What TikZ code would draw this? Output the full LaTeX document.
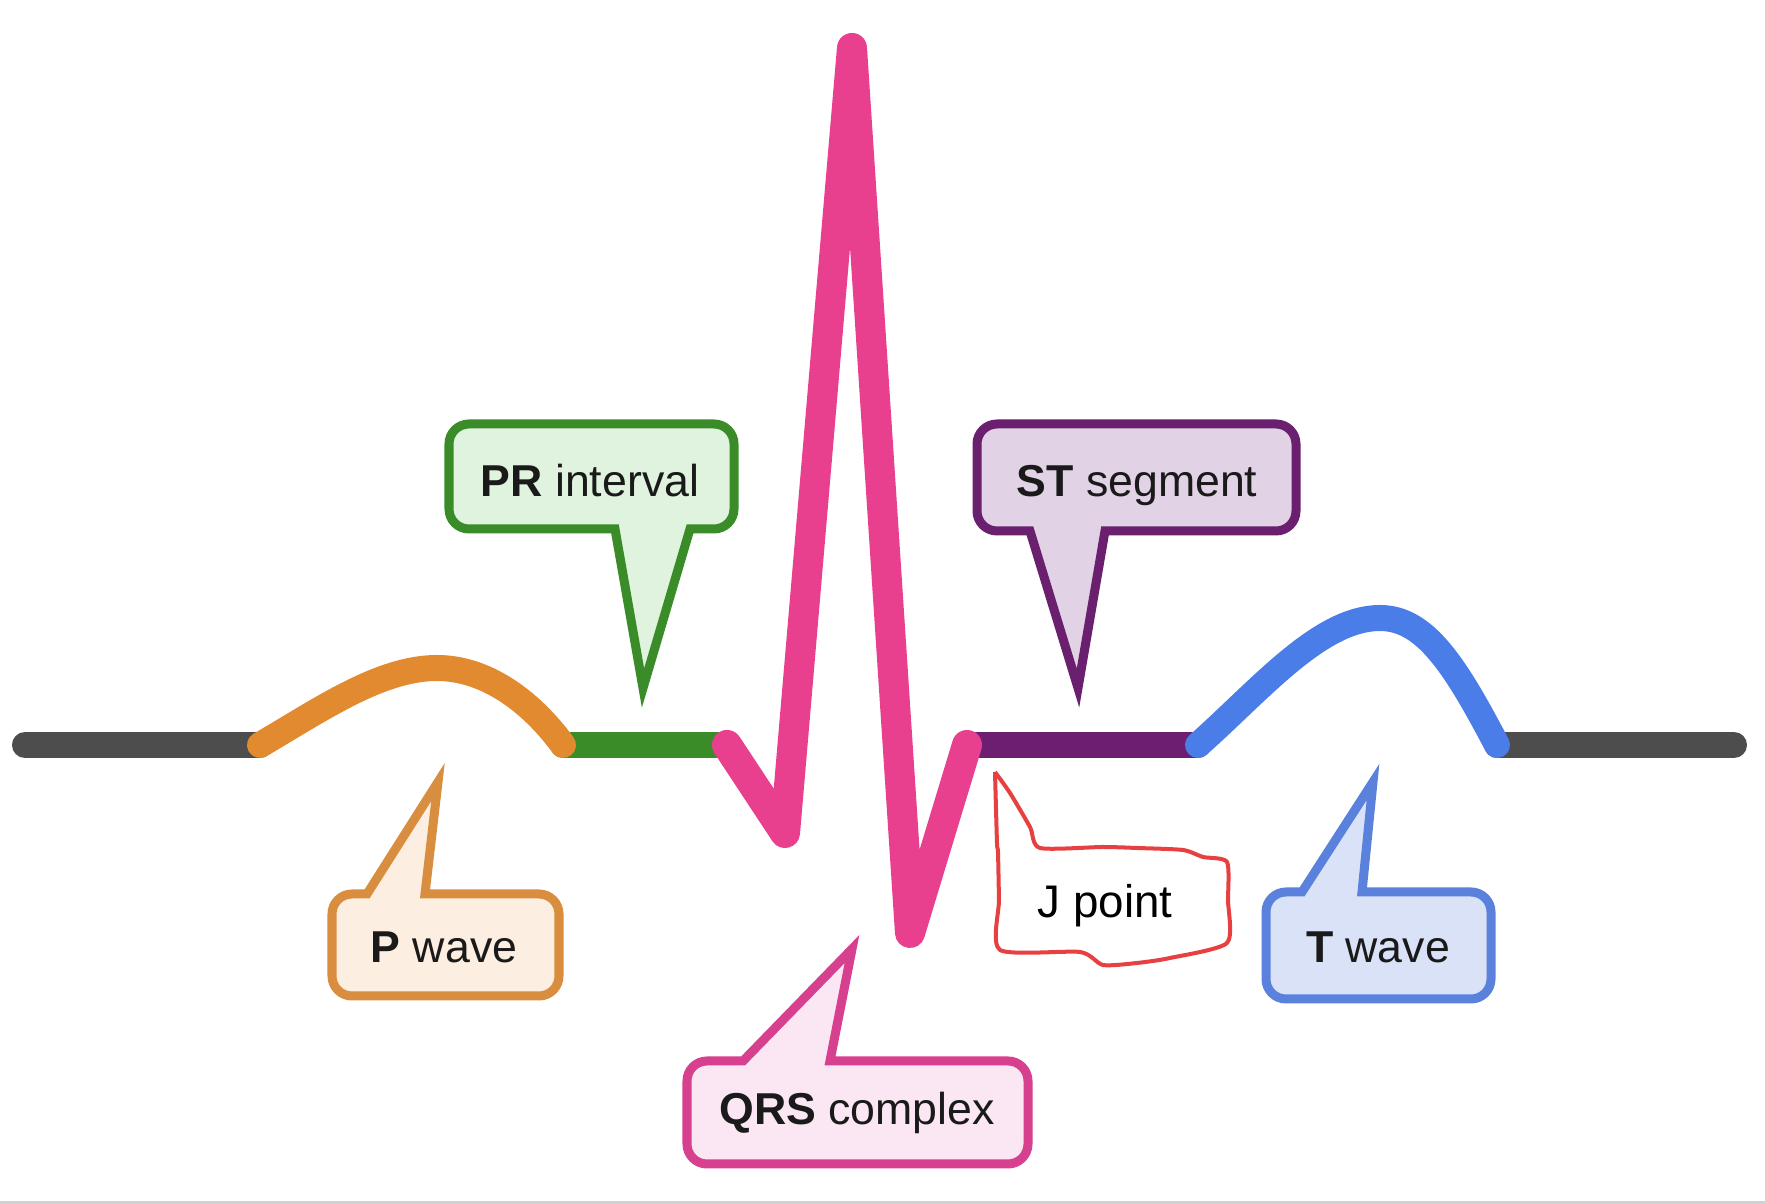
\documentclass[tikz,border=0pt]{standalone}
\usepackage{fontspec}
\setmainfont{Liberation Sans}
\usepackage{xcolor}
\usepackage{tikz}
\usetikzlibrary{positioning}
\definecolor{basegray}{RGB}{77,77,77}
\definecolor{pcolor}{RGB}{226,138,48}
\definecolor{prcolor}{RGB}{58,140,40}
\definecolor{qrscolor}{RGB}{232,64,143}
\definecolor{stcolor}{RGB}{110,30,112}
\definecolor{tcolor}{RGB}{74,125,232}
\definecolor{pfill}{RGB}{252,238,224}
\definecolor{pline}{RGB}{216,142,62}
\definecolor{prfill}{RGB}{224,243,222}
\definecolor{stfill}{RGB}{226,210,230}
\definecolor{stline}{RGB}{106,32,110}
\definecolor{tfill}{RGB}{218,226,248}
\definecolor{tline}{RGB}{90,130,220}
\definecolor{qrsfill}{RGB}{251,230,243}
\definecolor{qrsline}{RGB}{214,64,142}
\definecolor{jcolor}{RGB}{232,64,64}
\definecolor{txtcolor}{RGB}{26,26,26}

\begin{document}
\begin{tikzpicture}[
    x=0.01cm, y=-0.01cm,
    trace/.style={line width=0.26cm, line cap=round, line join=round},
    callout/.style={line width=0.09cm, rounded corners=2mm},
    lbl/.style={font=\fontsize{12.7}{15}\selectfont, text=txtcolor, anchor=base, inner sep=0pt}
  ]
  \useasboundingbox (0,0) rectangle (1765,1204);
  \fill[white] (0,0) rectangle (1765,1204);
  \fill[black!18] (0,1201) rectangle (1765,1204);

  % baseline pieces
  \coordinate (start) at (25,745);
  \coordinate (pon) at (260,745);
  \coordinate (poff) at (563,745);
  \coordinate (qon) at (727,745);
  \coordinate (qbot) at (785,833);
  \coordinate (rtop) at (852,48);
  \coordinate (sbot) at (910,933);
  \coordinate (jpt) at (967,745);
  \coordinate (ton) at (1198,745);
  \coordinate (toff) at (1497,745);
  \coordinate (stop) at (1734,745);

  \draw[trace, basegray] (start) -- (pon);
  \draw[trace, basegray] (toff) -- (stop);
  \draw[trace, prcolor] (poff) -- (qon);
  \draw[trace, stcolor] (jpt) -- (ton);
  \draw[trace, pcolor] (pon) .. controls (320,710) and (380,668) .. (437,668)
    .. controls (485,668) and (530,700) .. (poff);
  \draw[trace, tcolor] (ton) .. controls (1260,690) and (1320,618) .. (1380,618)
    .. controls (1425,618) and (1455,665) .. (toff);
  \draw[trace, qrscolor, line width=0.3cm] (qon) -- (qbot) -- (rtop) -- (sbot) -- (jpt);

  % callouts
  \draw[callout, draw=prcolor, fill=prfill] (590,424) -- (734,424) -- (734,529) [sharp corners] -- (690,529)
    -- (643,688) -- (615,529) [rounded corners=2mm] -- (449,529) -- (449,424) -- cycle;
  \node[lbl] (prtext) at (590,497) {\textbf{PR} interval};

  \draw[callout, draw=stline, fill=stfill] (1136,424) -- (1296,424) -- (1296,531) [sharp corners] -- (1105,531)
    -- (1078,688) -- (1030,531) [rounded corners=2mm] -- (977,531) -- (977,424) -- cycle;
  \node[lbl] (sttext) at (1137,497) {\textbf{ST} segment};

  \draw[callout, draw=pline, fill=pfill] (445,996) -- (332,996) -- (332,894) [sharp corners] -- (367,894)
    -- (438,782) -- (425,894) [rounded corners=2mm] -- (559,894) -- (559,996) -- cycle;
  \node[lbl] (ptext) at (444,963) {\textbf{P} wave};

  \draw[callout, draw=tline, fill=tfill] (1378,999) -- (1266,999) -- (1266,892) [sharp corners] -- (1302,892)
    -- (1373,782) -- (1362,892) [rounded corners=2mm] -- (1491,892) -- (1491,999) -- cycle;
  \node[lbl] (ttext) at (1378,963) {\textbf{T} wave};

  \draw[callout, draw=qrsline, fill=qrsfill] (857,1164) -- (687,1164) -- (687,1061) [sharp corners] -- (743,1061)
    -- (852,949) -- (830,1061) [rounded corners=2mm] -- (1028,1061) -- (1028,1164) -- cycle;
  \node[lbl] (qrstext) at (857,1125) {\textbf{QRS} complex};

  % hand-drawn J point note
  \draw[jcolor, line width=0.04cm, line join=round] plot[smooth, tension=0.4] coordinates {
    (995,772) (1010,793) (1030,827) (1040,848) (1103,847) (1137,848) (1183,850)
    (1203,857) (1227,862) (1228,900) (1227,943) (1170,958) (1137,963) (1103,965)
    (1080,952) (1000,950) (999,900) (998,852) (997,843) (995,772)};
  \node[lbl, font=\fontsize{13}{15}\selectfont, text=black] (jtext) at (1105,918) {J point};
\end{tikzpicture}
\end{document}
